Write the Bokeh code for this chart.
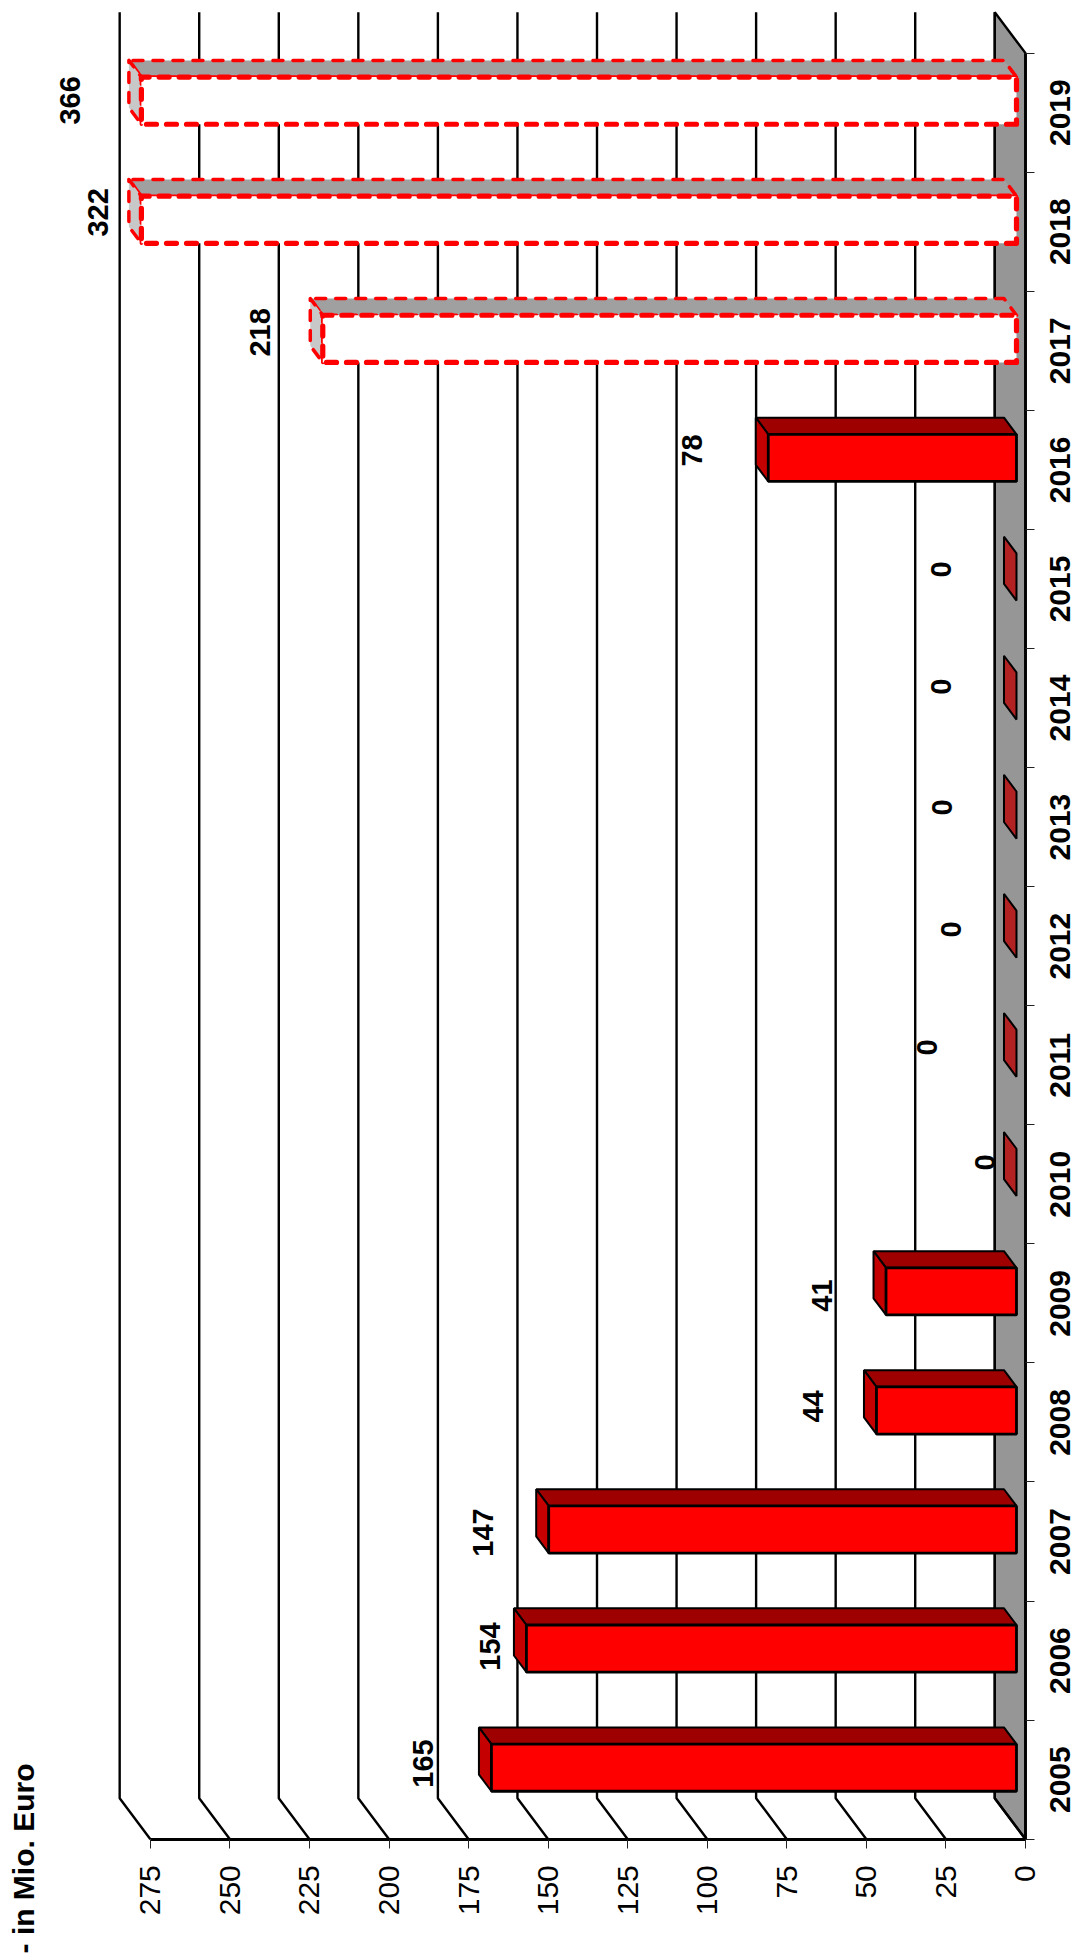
from math import pi
from bokeh.plotting import figure
from bokeh.models import Range1d, LinearAxis, FixedTicker, ColumnDataSource
from bokeh.core.properties import value
from bokeh.embed import file_html
from bokeh.resources import INLINE

years = [2005, 2006, 2007, 2008, 2009, 2010, 2011, 2012, 2013, 2014, 2015, 2016, 2017, 2018, 2019]
amounts = [165, 154, 147, 44, 41, 0, 0, 0, 0, 0, 0, 78, 218, 322, 366]
planned = [False] * 12 + [True] * 3
value_ticks = [0, 25, 50, 75, 100, 125, 150, 175, 200, 225, 250, 275]
axis_max = 275
title_text = "- in Mio. Euro"

# hand-placed data label anchors (value units, category units)
label_v = [189.2, 168.4, 170.5, 66.8, 64.1, 12.6, 31.1, 23.3, 26.2, 26.4, 26.4, 104.7, 240.7, 291.5, 300.4]
label_c = [0.636, 1.618, 2.576, 3.634, 4.566, 5.683, 6.649, 7.64, 8.665, 9.68, 10.663, 11.663, 12.655, 13.663, 14.603]

# oblique projection of the 3-D box
DV, DC = 9.65, 0.344
Z0, Z1 = 0.293, 0.70
BAR_W = 0.396
YEAR_LABEL_V = -10.7
FONT = value("Liberation Sans")


def proj(v, c, z):
    return v + z * DV, c + z * DC


def face(points):
    pts = [proj(*q) for q in points]
    return [q[0] for q in pts], [q[1] for q in pts]


n = len(years)
p = figure(width=1078, height=1959, output_backend="svg", toolbar_location=None,
           x_axis_location=None, y_axis_location=None, min_border=0,
           x_range=Range1d(322.1, -16.66), y_range=Range1d(-1.0103, 15.442),
           outline_line_color=None, background_fill_color="white", border_fill_color="white")
p.grid.visible = False

# floor
fx, fy = face([(0, 0, 0), (0, 0, 1), (0, n, 1), (0, n, 0)])
p.patch(fx, fy, fill_color="#969696", line_color="black", line_width=2.4)

# back wall + side wall grid lines
gx, gy = [], []
for t in value_ticks:
    a = proj(t, 0, 0)
    b = proj(t, 0, 1)
    c = proj(t, n, 1)
    gx.append([a[0], b[0], c[0]])
    gy.append([a[1], b[1], c[1]])
p.multi_line(gx, gy, line_color="black", line_width=2.4)


def faces(indices, which):
    xs, ys = [], []
    for i in indices:
        V = min(amounts[i], axis_max)
        c0, c1 = i + 0.5 - BAR_W / 2, i + 0.5 + BAR_W / 2
        if which == "long":
            pts = [(0, c1, Z0), (V, c1, Z0), (V, c1, Z1), (0, c1, Z1)]
        elif which == "end":
            pts = [(V, c0, Z0), (V, c1, Z0), (V, c1, Z1), (V, c0, Z1)]
        else:
            pts = [(0, c0, Z0), (V, c0, Z0), (V, c1, Z0), (0, c1, Z0)]
        x, y = face(pts)
        xs.append(x)
        ys.append(y)
    return xs, ys


solid = [i for i in range(n) if not planned[i] and amounts[i] > 0]
zero = [i for i in range(n) if amounts[i] == 0]
dashed = [i for i in range(n) if planned[i]]

# solid bars
x, y = faces(solid, "long")
p.patches(x, y, fill_color="#9E0000", line_color="black", line_width=2)
x, y = faces(solid, "end")
p.patches(x, y, fill_color="#C40000", line_color="black", line_width=2)
x, y = faces(solid, "front")
p.patches(x, y, fill_color="#FF0000", line_color="black", line_width=2.8)

# zero bars: only a flat face is left
x, y = faces(zero, "end")
p.patches(x, y, fill_color="#B22222", line_color="black", line_width=2)

# planned bars
x, y = faces(dashed, "long")
p.patches(x, y, fill_color="#A0A0A0", line_color="#FF0000", line_width=3.5,
          line_dash="10 10", line_cap="round", line_join="round")
x, y = faces(dashed, "end")
p.patches(x, y, fill_color="#C8C8C8", line_color="#FF0000", line_width=3.5,
          line_dash="10 10", line_cap="round", line_join="round")
x, y = faces(dashed, "front")
p.patches(x, y, fill_color="#FFFFFF", line_color="#FF0000", line_width=5.2,
          line_dash="10 10", line_cap="round", line_join="round")

# value axis on the front edge of the floor
xaxis = LinearAxis(ticker=FixedTicker(ticks=value_ticks), fixed_location=0, bounds=(0, axis_max))
xaxis.axis_line_color = "black"
xaxis.axis_line_width = 2.8
xaxis.major_tick_line_color = "#222222"
xaxis.major_tick_line_width = 1
xaxis.major_tick_in = 0
xaxis.major_tick_out = 9
xaxis.minor_tick_line_color = None
xaxis.major_label_orientation = pi / 2
xaxis.major_label_standoff = 17
xaxis.major_label_text_font = "Liberation Sans"
xaxis.major_label_text_font_size = "30px"
xaxis.major_label_text_color = "black"
p.add_layout(xaxis, "below")

# category axis: boundary ticks between the years
yaxis = LinearAxis(ticker=FixedTicker(ticks=[], minor_ticks=list(range(n + 1))), fixed_location=0, bounds=(0, n))
yaxis.axis_line_color = "black"
yaxis.axis_line_width = 2.8
yaxis.major_tick_line_color = None
yaxis.minor_tick_line_color = "#222222"
yaxis.minor_tick_line_width = 1
yaxis.minor_tick_in = 0
yaxis.minor_tick_out = 9
p.add_layout(yaxis, "right")

# year labels in the middle of each slot
ysrc = ColumnDataSource(dict(v=[YEAR_LABEL_V] * n, c=[i + 0.5 for i in range(n)], t=[str(a) for a in years]))
p.text("v", "c", text="t", source=ysrc, angle=pi / 2, text_align="center",
       text_baseline="middle", text_font=FONT, text_font_style="bold",
       text_font_size=value("30px"), text_color="black")

# data labels
labels = ColumnDataSource(dict(v=label_v, c=label_c, t=[str(a) for a in amounts]))
p.text("v", "c", text="t", source=labels, angle=pi / 2, text_align="center",
       text_baseline="middle", text_font=FONT, text_font_style="bold",
       text_font_size=value("29px"), text_color="black")

# unit note, sitting left of the value axis
p.text([314.9], [0.636], text=[title_text], angle=pi / 2, text_align="right",
       text_baseline="middle", text_font=FONT, text_font_style="bold",
       text_font_size=value("30px"), text_color="black")

open("out.html", "w").write(file_html(p, INLINE))
